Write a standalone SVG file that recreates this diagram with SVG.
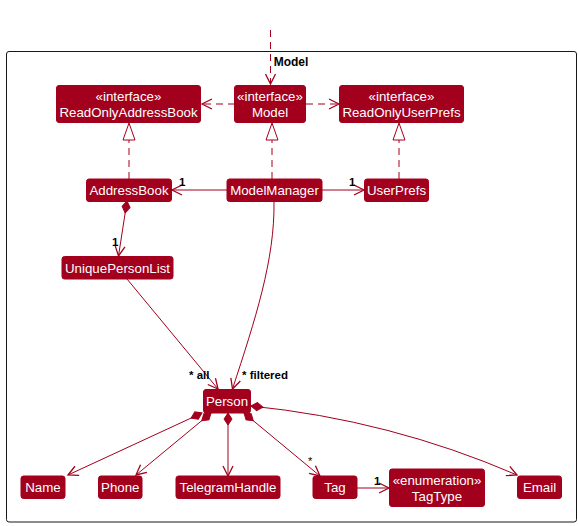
<svg xmlns="http://www.w3.org/2000/svg" width="578" height="526" viewBox="0 0 578 526">
<style>
.box{fill:#A2001D;stroke:#A2001D;stroke-width:1}
.t{font-family:"Liberation Sans",Arial,sans-serif;font-size:13.3px;fill:#FFFFFF;text-anchor:middle}
.lbl{font-family:"Liberation Sans",Arial,sans-serif;font-size:11.5px;font-weight:bold;fill:#000000}
.ln{fill:none;stroke:#A2001D;stroke-width:1}
.dash{stroke-dasharray:7,5}
</style>
<defs>
<marker id="arr" markerUnits="userSpaceOnUse" markerWidth="12" markerHeight="12" refX="10" refY="5" orient="auto" overflow="visible">
<path d="M0,0 L10,5 L0,10" fill="none" stroke="#A2001D" stroke-width="1.3"/>
</marker>
<marker id="tri" markerUnits="userSpaceOnUse" markerWidth="18" markerHeight="12" refX="17" refY="6" orient="auto" overflow="visible">
<path d="M0,0 L17,6 L0,12 Z" fill="#FFFFFF" stroke="#A2001D" stroke-width="1"/>
</marker>
<marker id="dia" markerUnits="userSpaceOnUse" markerWidth="13" markerHeight="9" refX="0" refY="4" orient="auto" overflow="visible">
<path d="M0,4 L6,0 L12,4 L6,8 Z" fill="#A2001D" stroke="#A2001D" stroke-width="1"/>
</marker>
</defs>

<g id="package-Model">
<rect x="6.5" y="51.5" width="570" height="470.5" rx="2.5" fill="none" stroke="#181818" stroke-width="1"/>
<text x="291" y="66" style="font-family:'Liberation Sans',Arial,sans-serif;font-size:12px;font-weight:bold;fill:#000;text-anchor:middle">Model</text>
</g>

<g id="connectors">
<path class="ln dash" d="M270.5,30 L270.5,84" marker-end="url(#arr)"/>
<path class="ln dash" d="M235,104 L202,104" marker-end="url(#arr)"/>
<path class="ln dash" d="M306,104 L339,104" marker-end="url(#arr)"/>
<path class="ln dash" d="M129,179 L129,123" marker-end="url(#tri)"/>
<path class="ln dash" d="M272,179 L272,123" marker-end="url(#tri)"/>
<path class="ln dash" d="M399,179 L399,123" marker-end="url(#tri)"/>
<path class="ln" d="M227,190 L172,190" marker-end="url(#arr)"/>
<text class="lbl" x="179" y="186">1</text>
<path class="ln" d="M322,190 L364,190" marker-end="url(#arr)"/>
<text class="lbl" x="349" y="186">1</text>
<path class="ln" d="M127,201 L118.5,256" marker-start="url(#dia)" marker-end="url(#arr)"/>
<text class="lbl" x="112" y="246">1</text>
<path class="ln" d="M127,279 L218,389" marker-end="url(#arr)"/>
<text class="lbl" x="189" y="379">* all</text>
<path class="ln" d="M274,201 C275,260 255,320 232.5,389" marker-end="url(#arr)"/>
<text class="lbl" x="242" y="379">* filtered</text>
<path class="ln" d="M202,413 L68,475" marker-start="url(#dia)" marker-end="url(#arr)"/>
<path class="ln" d="M211,413 L136,475" marker-start="url(#dia)" marker-end="url(#arr)"/>
<path class="ln" d="M228,413 L228,476" marker-start="url(#dia)" marker-end="url(#arr)"/>
<path class="ln" d="M244,413 L320,476" marker-start="url(#dia)" marker-end="url(#arr)"/>
<text class="lbl" x="308" y="465" style="font-weight:normal;font-size:11px">*</text>
<path class="ln" d="M251,406 Q390,420 517,475" marker-start="url(#dia)" marker-end="url(#arr)"/>
<path class="ln" d="M356,488 L389,488" marker-end="url(#arr)"/>
<text class="lbl" x="374" y="485">1</text>
</g>

<g id="ReadOnlyAddressBook">
<rect class="box" x="56.5" y="85.5" width="144" height="37" rx="2.5"/>
<text class="t" x="128.5" y="101">«interface»</text>
<text class="t" x="128.5" y="117">ReadOnlyAddressBook</text>
</g>
<g id="ModelInterface">
<rect class="box" x="234.5" y="85.5" width="71" height="37" rx="2.5"/>
<text class="t" x="270" y="101">«interface»</text>
<text class="t" x="270" y="117">Model</text>
</g>
<g id="ReadOnlyUserPrefs">
<rect class="box" x="339.5" y="85.5" width="124" height="37" rx="2.5"/>
<text class="t" x="401.5" y="101">«interface»</text>
<text class="t" x="401.5" y="117">ReadOnlyUserPrefs</text>
</g>
<g id="AddressBook">
<rect class="box" x="86.5" y="179" width="85" height="22.5" rx="2.5"/>
<text class="t" x="129" y="195">AddressBook</text>
</g>
<g id="ModelManager">
<rect class="box" x="227" y="179" width="95" height="22.5" rx="2.5"/>
<text class="t" x="274.5" y="195">ModelManager</text>
</g>
<g id="UserPrefs">
<rect class="box" x="364.5" y="179" width="64" height="22.5" rx="2.5"/>
<text class="t" x="396.5" y="195">UserPrefs</text>
</g>
<g id="UniquePersonList">
<rect class="box" x="62" y="256.5" width="111" height="22.5" rx="2.5"/>
<text class="t" x="117.5" y="272.5">UniquePersonList</text>
</g>
<g id="Person">
<rect class="box" x="203.5" y="389.5" width="47" height="23.5" rx="2.5"/>
<text class="t" x="227" y="406">Person</text>
</g>
<g id="Name">
<rect class="box" x="21" y="476" width="44" height="22.5" rx="2.5"/>
<text class="t" x="43" y="492">Name</text>
</g>
<g id="Phone">
<rect class="box" x="98.5" y="476" width="43.5" height="22.5" rx="2.5"/>
<text class="t" x="120.25" y="492">Phone</text>
</g>
<g id="TelegramHandle">
<rect class="box" x="176" y="476" width="104" height="22.5" rx="2.5"/>
<text class="t" x="228" y="492">TelegramHandle</text>
</g>
<g id="Tag">
<rect class="box" x="313" y="476" width="44" height="22.5" rx="2.5"/>
<text class="t" x="335" y="492">Tag</text>
</g>
<g id="TagType">
<rect class="box" x="389.5" y="469" width="95" height="37.5" rx="2.5"/>
<text class="t" x="437" y="485">«enumeration»</text>
<text class="t" x="437" y="501">TagType</text>
</g>
<g id="Email">
<rect class="box" x="517.5" y="476" width="44" height="22.5" rx="2.5"/>
<text class="t" x="539.5" y="492">Email</text>
</g>
</svg>
